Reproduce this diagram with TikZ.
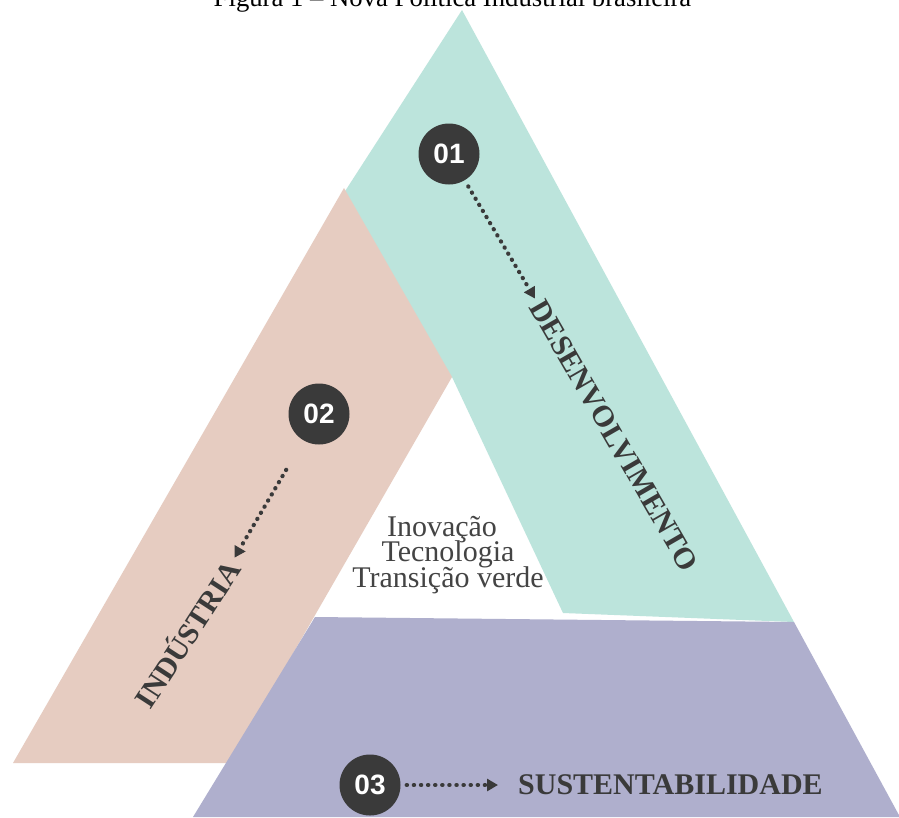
\documentclass[tikz,border=0pt]{standalone}
\usepackage{fontspec}
\setmainfont{Liberation Serif}
\newfontfamily\numfont{Liberation Sans}
\usetikzlibrary{arrows.meta}
\definecolor{mint}{HTML}{BCE4DC}
\definecolor{blush}{HTML}{E6CCC1}
\definecolor{lilac}{HTML}{AFAFCD}
\definecolor{ink}{HTML}{3A3A3A}
\definecolor{midink}{HTML}{444444}
\begin{document}
\begin{tikzpicture}[x=1pt,y=-1pt,
  badge/.style={circle,fill=ink,minimum size=61pt,inner sep=0pt,text=white,
    font=\numfont\bfseries\fontsize{28}{28}\selectfont},
  bandlabel/.style={text=ink,inner sep=0pt,
    font=\bfseries\fontsize{30}{30}\selectfont},
  midtext/.style={text=midink,inner sep=0pt,anchor=base,
    font=\fontsize{30}{30}\selectfont},
  dotarrow/.style={draw=ink,line width=4.2pt,line cap=round,
    dash pattern=on 0.3pt off 6.8pt,
    -{Triangle[length=11pt,width=12pt,fill=ink]}},
]
\clip (0,0) rectangle (899,817);
\fill[white] (0,0) rectangle (899,817);
% title
\node[anchor=base,inner sep=0pt,font=\fontsize{26.7}{26.7}\selectfont] (title) at (452.5,6) {Figura 1 – Nova Política Industrial brasileira};
% bands
\fill[mint] (462,10) -- (340,199) -- (445,377) -- (452,377) -- (563,613) -- (794,622) -- cycle;
\fill[blush] (344,188) -- (452,377) -- (230,763) -- (13,763) -- cycle;
\fill[lilac] (315,617) -- (794,622) -- (900,817) -- (193,817) -- cycle;
% badges
\node[badge] (b1) at (449,154) {01};
\node[badge] (b2) at (319,414) {02};
\node[badge] (b3) at (370,785) {03};
% labels
\node[bandlabel,rotate=-60,anchor=west] (dev) at (537,302) {DESENVOLVIMENTO};
\node[bandlabel,rotate=57,anchor=east] (ind) at (232,562) {INDÚSTRIA};
\node[bandlabel,anchor=west] (sus) at (518,785) {SUSTENTABILIDADE};
% arrows
\draw[dotarrow,shorten <=7pt,shorten >=4pt] (b1) -- (dev.west);
\draw[dotarrow,shorten <=34pt,shorten >=5pt] (b2) -- (ind.east);
\draw[dotarrow,shorten <=6pt,shorten >=20pt] (b3) -- (sus.west);
% centre text
\node[midtext] (t1) at (442,536) {Inovação};
\node[midtext] (t2) at (448,561) {Tecnologia};
\node[midtext] (t3) at (448,587) {Transição verde};
\end{tikzpicture}
\end{document}
